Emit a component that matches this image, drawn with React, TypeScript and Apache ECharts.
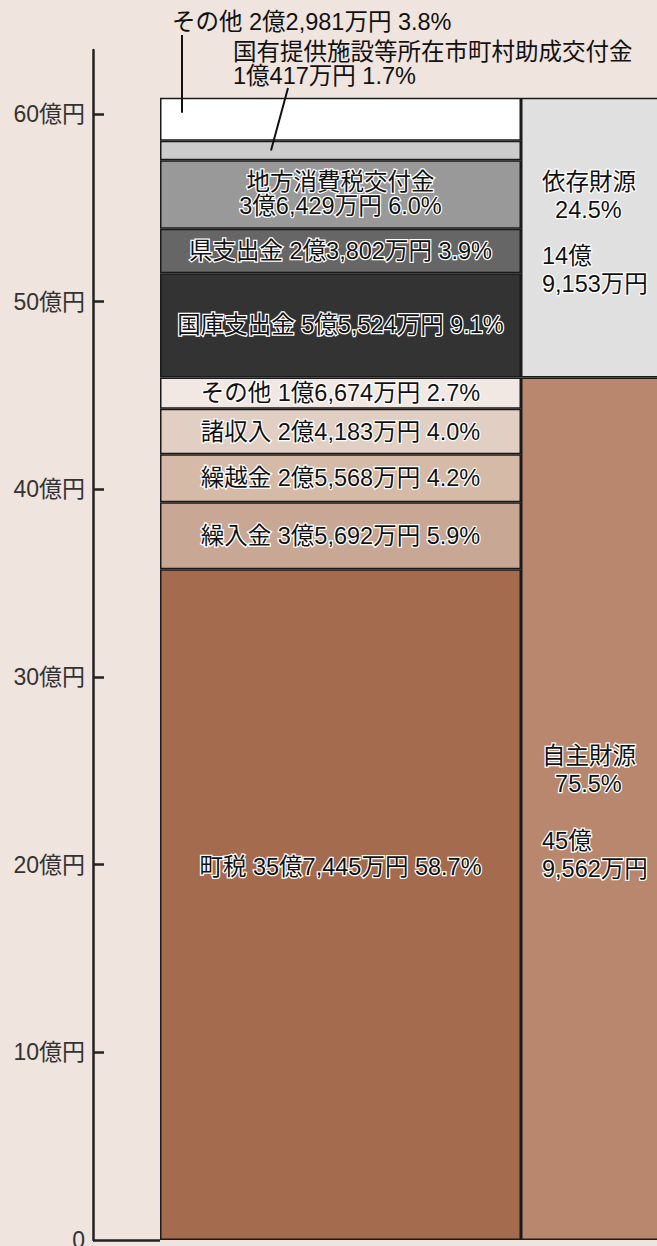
import React, { useEffect, useRef } from 'react';
import * as echarts from 'echarts';

// ---- data (values in 万円) ----
const categories = ['歳入', '財源'];
const itemNames = [
  '町税',
  '繰入金',
  '繰越金',
  '諸収入',
  'その他',
  '国庫支出金',
  '県支出金',
  '地方消費税交付金',
  '国有提供施設等所在市町村助成交付金',
  'その他',
];
const itemValues = [357445, 35692, 25568, 24183, 16674, 55524, 23802, 36429, 10417, 22981];
const itemPercents = ['58.7', '5.9', '4.2', '4.0', '2.7', '9.1', '3.9', '6.0', '1.7', '3.8'];
const groupNames = ['自主財源', '依存財源'];
const groupValues = [459562, 149153];
const groupPercents = ['75.5', '24.5'];
const yTicks = [0, 100000, 200000, 300000, 400000, 500000, 600000];
const yMax = 634100;

// ---- styles ----
const itemColors = [
  '#a56b4f',
  '#c9a795',
  '#d5baa8',
  '#e1cfc4',
  '#f2e8e3',
  '#333333',
  '#666666',
  '#999999',
  '#cccccc',
  '#ffffff',
];
const groupColors = ['#b8876d', '#e0e0e0'];
const FONT = "'Liberation Sans', 'Noto Sans CJK JP', sans-serif";
const FS = 23.5;

const withComma = (n: number) => String(n).replace(/\B(?=(\d{3})+(?!\d))/g, ',');
const okuPart = (man: number) => `${Math.floor(man / 10000)}億`;
const manPart = (man: number) => `${withComma(man % 10000)}万円`;
const fmtYen = (man: number) => okuPart(man) + manPart(man);

export default function App() {
  const ref = useRef<HTMLDivElement>(null);
  useEffect(() => {
    document.body.style.margin = '0';
    document.body.style.background = '#efe4de';
    const chart = echarts.init(ref.current!, undefined, { renderer: 'svg' });

    const haloLabel = {
      show: true,
      color: '#111',
      fontSize: FS,
      fontFamily: FONT,
      textBorderColor: '#ffffff',
      textBorderWidth: 2.5,
      lineHeight: 24,
    };

    const itemSeries = itemNames.map((name, i) => {
      const yen = fmtYen(itemValues[i]);
      const twoLine = i === 7 || i === 8;
      const text = twoLine
        ? `${name}\n${yen} ${itemPercents[i]}%`
        : `${name} ${yen} ${itemPercents[i]}%`;
      let label: any = { ...haloLabel, position: 'inside', formatter: text };
      if (i === 0) label.offset = [0, -38];
      if (i === 8) {
        label = {
          show: true, color: '#111', fontSize: FS, fontFamily: FONT, lineHeight: 24,
          position: [73, -77], align: 'left', verticalAlign: 'middle', formatter: text,
        };
      }
      if (i === 9) {
        label = {
          show: true, color: '#111', fontSize: FS, fontFamily: FONT,
          position: [12, -75.6], align: 'left', verticalAlign: 'middle', formatter: text,
        };
      }
      return {
        type: 'bar',
        name,
        stack: 'total',
        barWidth: '100%',
        data: [itemValues[i], '-'],
        itemStyle: { color: itemColors[i], borderColor: '#1a1a1a', borderWidth: 1.5 },
        label,
      };
    });

    const groupSeries = groupNames.map((name, i) => {
      const gapH = i === 0 ? 29 : 18;
      const tokenStyle = {
        color: '#111', fontSize: FS, fontFamily: FONT, lineHeight: 28,
        textBorderColor: '#ffffff', textBorderWidth: 2.5,
      };
      return {
        type: 'bar',
        name,
        stack: 'total',
        barWidth: '100%',
        data: ['-', groupValues[i]],
        itemStyle: { color: groupColors[i], borderColor: '#1a1a1a', borderWidth: 1.5 },
        label: {
          show: true,
          position: 'insideLeft',
          distance: 21,
          offset: [0, i === 0 ? 4 : -5],
          formatter: `{a|${name}}\n{a|  ${groupPercents[i]}%}\n{g| }\n{a|${okuPart(groupValues[i])}}\n{a|${manPart(groupValues[i])}}`,
          rich: {
            a: tokenStyle,
            g: { fontSize: 10, lineHeight: gapH },
          },
        },
      };
    });

    chart.setOption({
      animation: false,
      backgroundColor: '#efe4de',
      grid: { left: 160, top: 50, bottom: 6, width: 722, containLabel: false, outerBoundsMode: 'none' },
      xAxis: {
        type: 'category',
        data: categories,
        show: false,
      },
      yAxis: [
        {
          type: 'value',
          min: 0,
          max: yMax,
          interval: 100000,
          position: 'left',
          offset: 67,
          axisLine: { show: true, lineStyle: { color: '#222', width: 2.5 } },
          axisTick: {
            show: true, inside: true, length: 11,
            lineStyle: { color: '#222', width: 2.5 },
            customValues: yTicks.slice(1),
          },
          axisLabel: {
            show: true,
            customValues: yTicks,
            formatter: (v: number) => (v === 0 ? '0' : `${v / 10000}億円`),
            color: '#333',
            fontSize: 23,
            fontFamily: FONT,
            margin: 8,
          },
          splitLine: { show: false },
        },
        {
          type: 'value',
          min: 0,
          max: yMax,
          interval: 100000,
          position: 'left',
          offset: 67,
          axisLine: { show: false },
          axisTick: {
            show: true, inside: true, length: 67,
            lineStyle: { color: '#222', width: 2.5 },
            customValues: [0],
          },
          axisLabel: { show: false },
          splitLine: { show: false },
        },
      ],
      series: [...itemSeries, ...groupSeries],
    });

    // leader lines for the two small top segments
    const x0 = chart.convertToPixel({ xAxisIndex: 0 }, categories[0]) as number;
    const x1 = chart.convertToPixel({ xAxisIndex: 0 }, categories[1]) as number;
    const band = x1 - x0;
    const left = x0 - band / 2;
    const cum: number[] = [];
    itemValues.reduce((acc, v) => { cum.push(acc); return acc + v; }, 0);
    const yAt = (v: number) => chart.convertToPixel({ yAxisIndex: 0 }, v) as number;
    chart.setOption({
      graphic: [
        {
          type: 'line',
          z: 100,
          shape: { x1: left + 22, y1: 35, x2: left + 22, y2: yAt(cum[9] + itemValues[9] * 0.65) },
          style: { stroke: '#111', lineWidth: 2 },
        },
        {
          type: 'line',
          z: 100,
          shape: { x1: left + 128, y1: 88, x2: left + 111, y2: yAt(cum[8] + itemValues[8] * 0.5) },
          style: { stroke: '#111', lineWidth: 2 },
        },
      ],
    });

    return () => chart.dispose();
  }, []);
  return <div ref={ref} style={{ width: 657, height: 1246 }} />;
}
